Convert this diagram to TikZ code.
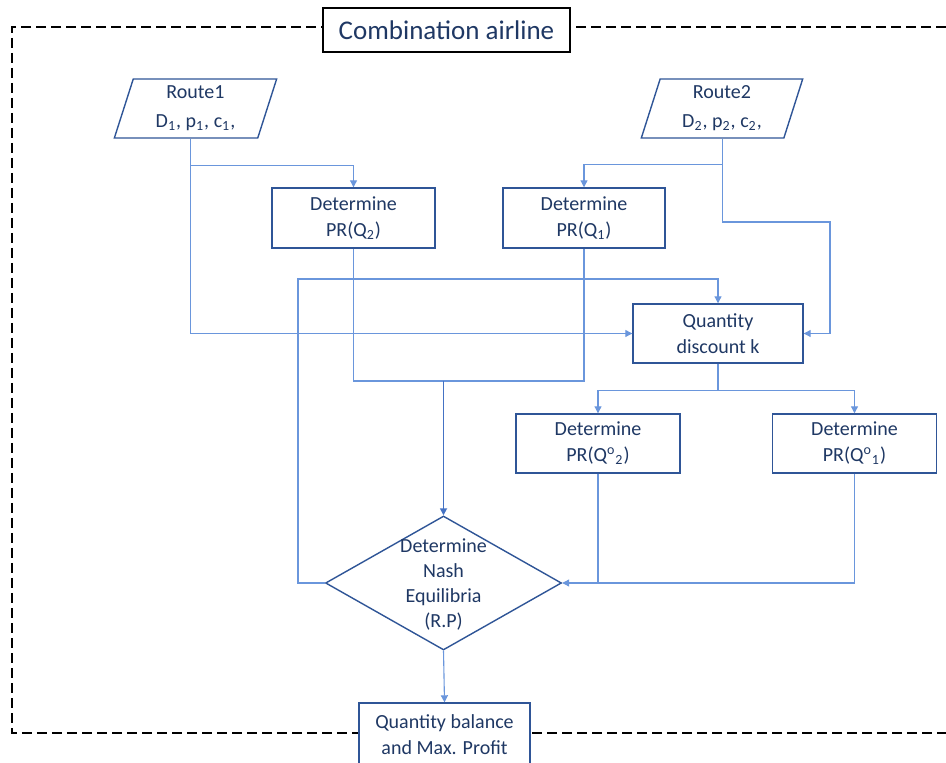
\documentclass[tikz,border=0pt]{standalone}
\usepackage{fontspec}
\setmainfont{Carlito}
\usetikzlibrary{shapes.geometric,arrows.meta,calc}

\definecolor{navy}{HTML}{1F3864}
\definecolor{boxblue}{HTML}{2F5597}
\definecolor{linkblue}{HTML}{6A96DC}
\definecolor{mainblue}{HTML}{4472C4}

\tikzset{
  block/.style={draw=boxblue, line width=0.7pt, fill=white, text=navy, align=center,
    minimum width=81.5pt, minimum height=30pt, inner sep=0pt,
    font=\fontsize{10}{13}\selectfont},
  route/.style={block, trapezium, trapezium left angle=75, trapezium right angle=105,
    trapezium stretches=true, minimum height=29.5pt,
    font=\fontsize{10}{14.5}\selectfont},
  decision/.style={diamond, draw=boxblue, line width=0.7pt, fill=white,
    minimum width=118pt, minimum height=67pt, inner sep=0pt},
  link/.style={draw=linkblue, line width=0.55pt},
  arr/.style={link, -{Triangle[length=3.5pt,width=3.5pt]}},
  mainarr/.style={draw=mainblue, line width=0.8pt, -{Triangle[length=3.5pt,width=3.5pt]}},
  frame/.style={draw=black, line width=0.6pt, dash pattern=on 5pt off 2.5pt},
}

\begin{document}
\begin{tikzpicture}[x=0.5pt, y=-0.5pt]
\useasboundingbox (0,0) rectangle (946,763);

% Dashed frame of the airline
\draw[frame] (946,27) -- (12,27) -- (12,733) -- (946,733);
\node[block, draw=black, line width=0.6pt, minimum width=123.5pt, minimum height=22pt,
  font=\fontsize{13.5}{16}\selectfont] (title) at (446.5,30) {Combination airline};

% Routes
\node[route, minimum width=81.5pt] (route1) at (195.5,108.5)
  {Route1\\D\textsubscript{1}, p\textsubscript{1}, c\textsubscript{1},};
\node[route, minimum width=81pt] (route2) at (722,108.5)
  {Route2\\D\textsubscript{2}, p\textsubscript{2}, c\textsubscript{2},};

% Price reactions
\node[block] (detQ2) at (353.5,218) {Determine\\PR(Q\textsubscript{2})};
\node[block, minimum width=81pt] (detQ1) at (584,218) {Determine\\PR(Q\textsubscript{1})};
\node[block, minimum width=85pt, minimum height=29.5pt] (qty) at (718,333.5) {Quantity\\discount k};
\node[block, minimum width=82pt, minimum height=29.5pt] (detQo2) at (598,443.5)
  {Determine\\PR(Q\textsuperscript{o}\textsubscript{2})};
\node[block, minimum width=82pt, minimum height=29.5pt] (detQo1) at (854.5,443.5)
  {Determine\\PR(Q\textsuperscript{o}\textsubscript{1})};

% Equilibrium and result
\node[decision] (nash) at (443.5,583) {};
\node[text=navy, align=center, font=\fontsize{10}{12.5}\selectfont] (nashtext) at (443.5,584.5)
  {Determine\\Nash\\Equilibria\\(R.P)};
\node[block, minimum width=85.5pt, minimum height=32pt] (final) at (444.5,735)
  {Quantity balance\\and Max. Profit};

% Connectors
\coordinate (r1out) at ($(route1.bottom side)+(5,0)$);
\coordinate (r2out) at ($(route2.bottom side)+(10,0)$);
\coordinate (r1split) at ($(r1out)+(0,27)$);
\coordinate (r2split) at ($(r2out)+(0,26)$);
\coordinate (r2bend) at (830,222);
\coordinate (merge) at (443.5,381);
\coordinate (loop) at (298,279);
\coordinate (qsplit) at ($(qty.south)+(0,27)$);

\draw[arr] (r1out) |- (qty.west);
\draw[arr] (r1split) -| (detQ2.north);
\draw[arr] (r2out) |- (r2bend) |- (qty.east);
\draw[arr] (r2split) -| (detQ1.north);
\draw[link] (detQ2.south) |- (merge) -| (detQ1.south);
\draw[mainarr] (merge) -- (nash.north);
\draw[arr] (nash.west) -| (loop) -| (qty.north);
\draw[link] (qty.south) -- (qsplit);
\draw[arr] (qsplit) -| (detQo2.north);
\draw[arr] (qsplit) -| (detQo1.north);
\draw[arr] (detQo1.south) |- (nash.east);
\draw[link] (detQo2.south) -- (detQo2.south |- nash.east);
\draw[arr] (nash.south) -- (final.north);

\end{tikzpicture}
\end{document}
